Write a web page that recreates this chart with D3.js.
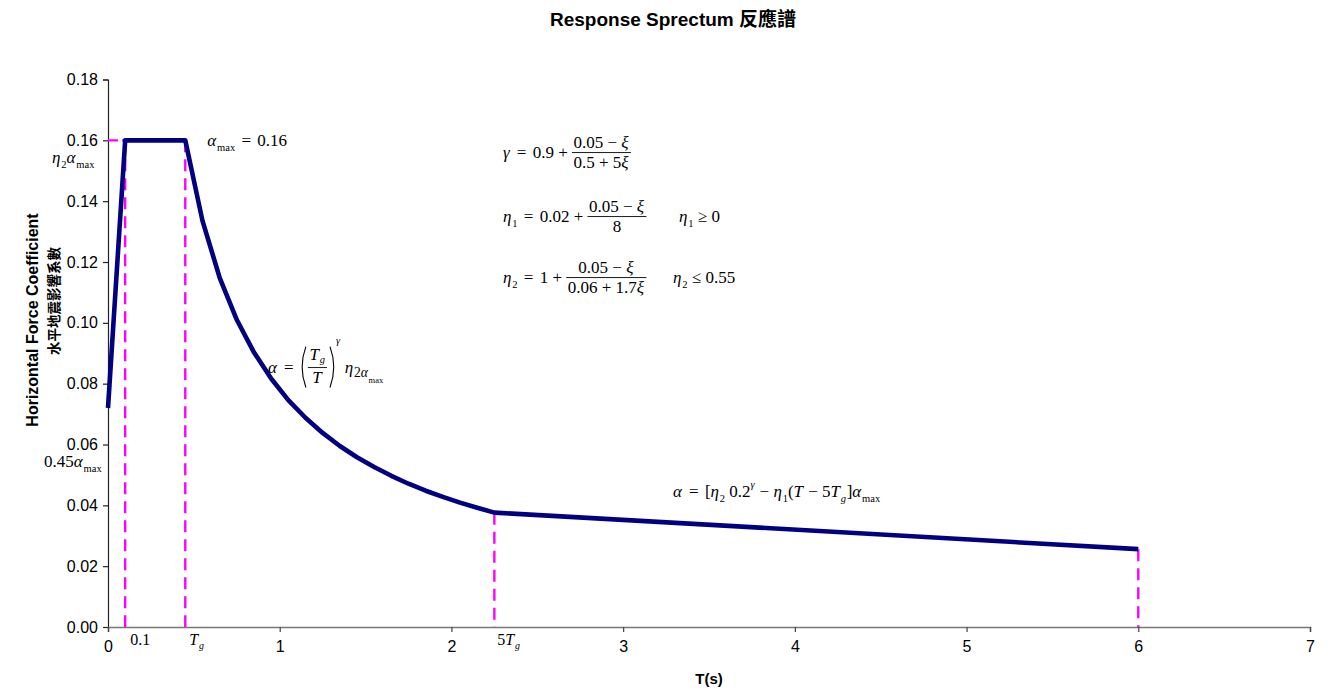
<!DOCTYPE html>
<html>
<head>
<meta charset="utf-8">
<script src="https://cdn.jsdelivr.net/npm/d3@7"></script>
<style>
  html, body { margin: 0; padding: 0; background: #fff; }
  svg { display: block; }
</style>
</head>
<body>
<svg id="chart" width="1331" height="692"></svg>
<script>
// Design response spectrum: period T (s) vs. horizontal seismic force coefficient
const periods = [0, 0.1, 0.45, 0.55, 0.65, 0.75, 0.85, 0.95, 1.05, 1.15, 1.25, 1.35,
                 1.45, 1.55, 1.65, 1.75, 1.85, 1.95, 2.05, 2.15, 2.25, 6];
const coefficients = [0.072, 0.16, 0.16, 0.1336, 0.1149, 0.1010, 0.0903, 0.0817, 0.0746,
                      0.0688, 0.0638, 0.0595, 0.0558, 0.0526, 0.0497, 0.0471, 0.0448,
                      0.0428, 0.0409, 0.0392, 0.0376, 0.0256];
// Periods at which dashed guide lines drop to the axis (0.1, Tg, 5Tg, 6 s)
const guidePeriods = [0.1, 0.45, 2.25, 6];
const xTicks = [0, 1, 2, 3, 4, 5, 6, 7];
const yTicks = [0, 0.02, 0.04, 0.06, 0.08, 0.10, 0.12, 0.14, 0.16, 0.18];

const svg = d3.select("#chart");
const margin = { left: 108, right: 21, top: 79.5, bottom: 65 };
const W = 1331, H = 692;

const x = d3.scaleLinear().domain([0, 7]).range([margin.left, W - margin.right]);
const y = d3.scaleLinear().domain([0, 0.18]).range([H - margin.bottom, margin.top]);

const sans = "Arial, 'Liberation Sans', sans-serif";
const serif = "'Times New Roman', 'Liberation Serif', serif";

// Title
svg.append("text")
  .attr("x", 673).attr("y", 26)
  .attr("text-anchor", "middle")
  .attr("font-family", sans + ", 'Noto Sans CJK TC'")
  .attr("font-weight", "bold").attr("font-size", 19)
  .text("Response Sprectum 反應譜");

// Axes
const yAxis = svg.append("g")
  .attr("transform", `translate(${x(0)},0)`)
  .call(d3.axisLeft(y).tickValues(yTicks).tickFormat(d3.format(".2f")).tickSizeOuter(0).tickSize(5).tickPadding(5));
yAxis.select(".domain").attr("stroke", "#222").attr("stroke-width", 1.2);
yAxis.selectAll(".tick line").attr("stroke", "#222").attr("stroke-width", 1.2);
yAxis.selectAll(".tick text").attr("font-family", sans).attr("font-size", 16).attr("fill", "#000");

const xAxis = svg.append("g")
  .attr("transform", `translate(0,${y(0)})`)
  .call(d3.axisBottom(x).tickValues(xTicks).tickFormat(d3.format("d")).tickSizeOuter(0).tickSize(5).tickPadding(9));
xAxis.select(".domain").attr("stroke", "#777").attr("stroke-width", 1.5);
xAxis.selectAll(".tick line").attr("stroke", "#444").attr("stroke-width", 1.2);
xAxis.selectAll(".tick text").attr("font-family", sans).attr("font-size", 16).attr("fill", "#000");

// Axis titles
svg.append("text")
  .attr("x", 709).attr("y", 684)
  .attr("text-anchor", "middle")
  .attr("font-family", sans).attr("font-weight", "bold").attr("font-size", 15)
  .text("T(s)");

svg.append("text")
  .attr("transform", "translate(38,320) rotate(-90)")
  .attr("text-anchor", "middle")
  .attr("font-family", sans).attr("font-weight", "bold").attr("font-size", 16)
  .text("Horizontal Force Coefficient");
svg.append("text")
  .attr("transform", "translate(59,301) rotate(-90)")
  .attr("text-anchor", "middle")
  .attr("font-family", "'Noto Sans CJK TC', sans-serif").attr("font-weight", "bold").attr("font-size", 13.5)
  .text("水平地震影響系數");

// Dashed guides
const coefAt = t => coefficients[periods.lastIndexOf(t)];
const guides = svg.append("g")
  .attr("stroke", "#ff00ff").attr("stroke-width", 2.4)
  .attr("stroke-dasharray", "12,7").attr("fill", "none");
guides.selectAll("line.v")
  .data(guidePeriods)
  .join("line").attr("class", "v")
  .attr("x1", d => x(d)).attr("x2", d => x(d))
  .attr("y1", d => y(coefAt(d))).attr("y2", y(0));
guides.append("line")
  .attr("x1", x(0)).attr("x2", x(guidePeriods[0]))
  .attr("y1", y(coefAt(guidePeriods[0]))).attr("y2", y(coefAt(guidePeriods[0])))
  .attr("stroke-dasharray", "10,4");

// Spectrum curve
const line = d3.line().x((d, i) => x(periods[i])).y(d => y(d));
svg.append("path")
  .attr("d", line(coefficients))
  .attr("fill", "none")
  .attr("stroke", "#000080")
  .attr("stroke-width", 4.6)
  .attr("stroke-linejoin", "round");

// --- small typesetting helper for the formula annotations ---
function run(g, x0, y0, parts, fs) {
  let cx = x0;
  for (const p of parts) {
    if (p.sp !== undefined) { cx += p.sp; continue; }
    if (p.frac) {
      const gn = g.append("g"), gd = g.append("g");
      const wn = run(gn, 0, 0, p.frac[0], fs);
      const wd = run(gd, 0, 0, p.frac[1], fs);
      const w = Math.max(wn, wd) + 3;
      const ly = y0 - fs * 0.32;
      const lift = p.lift || 0;
      gn.attr("transform", `translate(${cx + (w - wn) / 2},${ly - fs * 0.27 - lift})`);
      gd.attr("transform", `translate(${cx + (w - wd) / 2},${ly + fs * 0.93})`);
      g.append("line").attr("x1", cx).attr("x2", cx + w)
        .attr("y1", ly).attr("y2", ly).attr("stroke", "#000").attr("stroke-width", 0.9);
      cx += w + 1;
      continue;
    }
    if (p.paren) {
      const top = y0 - fs * 1.55, bot = y0 + fs * 0.85;
      const gi = g.append("g");
      const wi = run(gi, 0, 0, p.paren, fs);
      gi.attr("transform", `translate(${cx + 8},${y0})`);
      const mid = (top + bot) / 2;
      g.append("path")
        .attr("d", `M${cx + 6},${top} Q${cx - 1.5},${mid} ${cx + 6},${bot}`)
        .attr("fill", "none").attr("stroke", "#000").attr("stroke-width", 1.1);
      const rx = cx + 8 + wi + 2;
      g.append("path")
        .attr("d", `M${rx},${top} Q${rx + 7.5},${mid} ${rx},${bot}`)
        .attr("fill", "none").attr("stroke", "#000").attr("stroke-width", 1.1);
      cx = rx + 6;
      continue;
    }
    const scale = p.sub || p.sup ? (p.k || 0.62) : 1;
    const size = fs * scale;
    const dy = p.dy !== undefined ? p.dy : (p.sub ? fs * 0.28 : p.sup ? -fs * 0.55 : 0);
    const t = g.append("text")
      .attr("x", cx).attr("y", y0 + dy)
      .attr("font-family", serif).attr("font-size", size)
      .attr("font-style", p.i ? "italic" : "normal")
      .attr("xml:space", "preserve")
      .text(p.t);
    cx += t.node().getComputedTextLength() + (p.i ? size * 0.05 : 0);
  }
  return cx - x0;
}
function formula(px, py, parts, fs = 17) {
  const g = svg.append("g");
  run(g, px, py, parts, fs);
  return g;
}
const alpha = { t: "α", i: true }, xi = { t: "ξ", i: true };
const maxSub = { t: "max", sub: true };
const eq = [{ sp: 2 }, { t: " = " }, { sp: 2 }];

formula(x(0.45) + 22, y(0.16) + 6, [alpha, maxSub, ...eq, { t: "0.16" }]);
formula(52, y(0.16) + 23, [{ t: "η", i: true }, { t: "2", sub: true }, alpha, maxSub]);
formula(44, y(0.072) + 59, [{ t: "0.45" }, alpha, maxSub]);
formula(x(0.1) + 5, y(0) + 18, [{ t: "0.1" }], 16);
formula(x(0.45) + 4, y(0) + 18, [{ t: "T", i: true }, { t: "g", i: true, sub: true }], 16);
formula(x(2.25) + 3, y(0) + 18, [{ t: "5" }, { t: "T", i: true }, { t: "g", i: true, sub: true }], 16);

formula(503, 158, [{ t: "γ", i: true }, ...eq, { t: "0.9 + " },
  { frac: [[{ t: "0.05 − " }, xi], [{ t: "0.5 + 5" }, xi]] }]);
formula(503, 222, [{ t: "η", i: true }, { t: "1", sub: true }, ...eq, { t: "0.02 + " },
  { frac: [[{ t: "0.05 − " }, xi], [{ t: "8" }]] }]);
formula(679, 222, [{ t: "η", i: true }, { t: "1", sub: true }, { t: " ≥ 0" }]);
formula(503, 283, [{ t: "η", i: true }, { t: "2", sub: true }, ...eq, { t: "1 + " },
  { frac: [[{ t: "0.05 − " }, xi], [{ t: "0.06 + 1.7" }, xi]] }]);
formula(673, 283, [{ t: "η", i: true }, { t: "2", sub: true }, { t: " ≤ 0.55" }]);

formula(268, 373, [alpha, ...eq,
  { paren: [{ frac: [[{ t: "T", i: true }, { t: "g", i: true, sub: true, dy: 3 }], [{ t: "T", i: true }]], lift: 3 }] },
  { t: "γ", i: true, sup: true, dy: -29 }, { sp: 4 },
  { t: "η", i: true }, { t: "2", sub: true, k: 0.8, dy: 4 }, { t: "α", i: true, sub: true, k: 0.8, dy: 4 },
  { t: "max", sub: true, k: 0.5, dy: 10 }]);

formula(673, 497, [alpha, ...eq, { t: "[" }, { t: "η", i: true }, { t: "2", sub: true }, { t: " 0.2" },
  { t: "γ", i: true, sup: true }, { t: " − " }, { t: "η", i: true }, { t: "1", sub: true },
  { t: "(" }, { t: "T", i: true }, { t: " − 5" }, { t: "T", i: true }, { t: "g", i: true, sub: true },
  { t: "]" }, alpha, maxSub]);
</script>
</body>
</html>
